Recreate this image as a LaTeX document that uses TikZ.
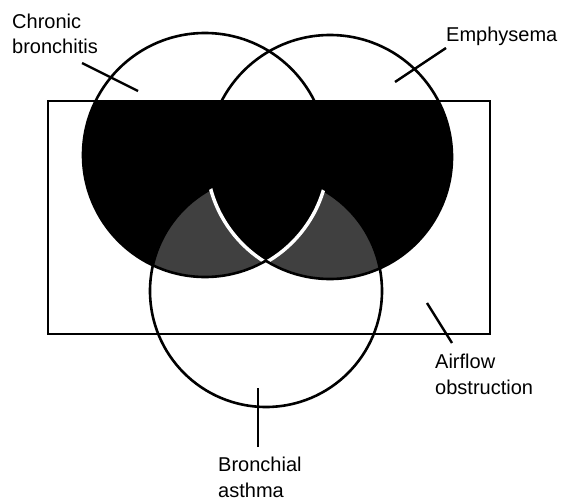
\documentclass[tikz,border=0pt]{standalone}
\usepackage{fontspec}
\setmainfont{Liberation Sans}

\begin{document}
\begin{tikzpicture}[x=1pt, y=-1pt,
    outline/.style={line width=2.6pt},
    leader/.style={line width=2.4pt},
    venntext/.style={anchor=base west, align=left, inner sep=0pt,
        font=\fontsize{20}{25.5}\selectfont}]

    \useasboundingbox (0,0) rectangle (561,500);

    \coordinate (CB) at (205, 155);  % chronic bronchitis
    \coordinate (EM) at (330, 157);  % emphysema
    \coordinate (BA) at (266, 291);  % bronchial asthma
    \coordinate (AOa) at (48, 101);  % airflow obstruction box
    \coordinate (AOb) at (490, 334);

    % black: box and either upper circle
    \begin{scope}
        \clip (AOa) rectangle (AOb);
        \fill[black] (CB) circle (122);
        \fill[black] (EM) circle (122);
    \end{scope}

    % grey: asthma with one upper circle only
    \begin{scope}
        \clip (BA) circle (116);
        \fill[black!75] (CB) circle (122);
        \fill[black!75] (EM) circle (122);
        \clip (CB) circle (122);
        \fill[black] (EM) circle (122);
    \end{scope}

    \draw[outline] (AOa) rectangle (AOb);
    \draw[outline] (CB) circle (122);
    \draw[outline] (EM) circle (122);
    \draw[outline] (BA) circle (116);

    % white rims of the grey parts
    \begin{scope}
        \clip (BA) circle (116);
        \clip (CB) circle (120.5);
        \draw[white, line width=3.5pt] (EM) circle (123.5);
    \end{scope}
    \begin{scope}
        \clip (BA) circle (116);
        \clip (EM) circle (120.5);
        \draw[white, line width=3.5pt] (CB) circle (123.5);
    \end{scope}

    \node[venntext] (cbText) at (12, 54) {Chronic\\bronchitis};
    \node[venntext] (emText) at (446, 42) {Emphysema};
    \node[venntext] (aoText) at (435, 394) {Airflow\\obstruction};
    \node[venntext] (baText) at (218, 497) {Bronchial\\asthma};

    \coordinate (cbFoot) at (82, 63);
    \coordinate (cbTip) at (138, 91);
    \coordinate (emFoot) at (446, 48);
    \coordinate (emTip) at (395, 82);
    \coordinate (aoFoot) at (452, 343);
    \coordinate (aoTip) at (427, 303);
    \coordinate (baFoot) at (258, 447);
    \coordinate (baTip) at (258, 388);

    \draw[leader] (cbFoot) -- (cbTip);
    \draw[leader] (emFoot) -- (emTip);
    \draw[leader] (aoFoot) -- (aoTip);
    \draw[leader] (baFoot) -- (baTip);

\end{tikzpicture}
\end{document}
